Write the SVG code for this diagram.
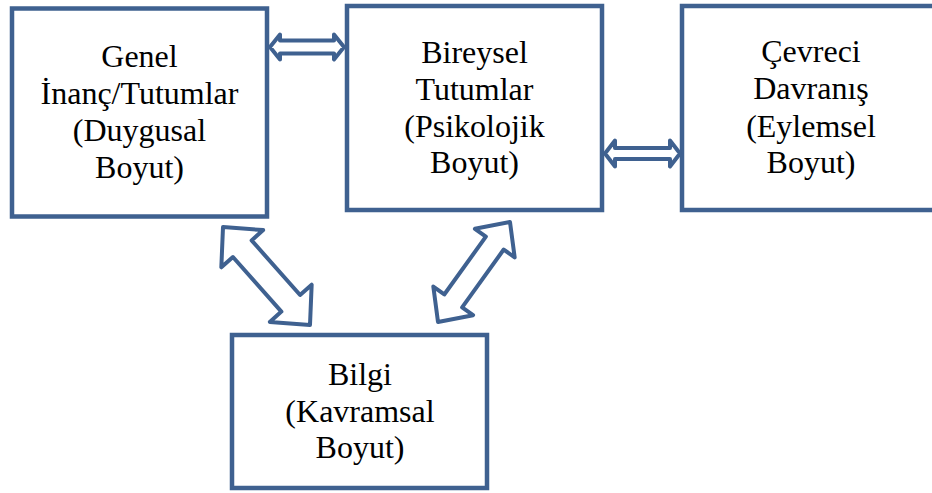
<svg xmlns="http://www.w3.org/2000/svg" width="932" height="493" viewBox="0 0 932 493">
<style>
.box{fill:#fff;stroke:#3F6190;stroke-width:4.5}
.arr{fill:#fff;stroke:#3F6190;stroke-width:4;stroke-linejoin:round}
text{font-family:"Liberation Serif","Times New Roman",serif;font-size:32px;fill:#000;text-anchor:middle}
</style>
<rect width="932" height="493" fill="#fff"/>
<g id="node-genel">
<rect class="box" x="12" y="8.5" width="255" height="208"/>
<text x="139.5" y="67">Genel</text>
<text x="139.5" y="104">İnanç/Tutumlar</text>
<text x="139.5" y="141">(Duygusal</text>
<text x="139.5" y="178">Boyut)</text>
</g>
<g id="node-bireysel">
<rect class="box" x="347" y="6" width="255" height="204"/>
<text x="474.5" y="63">Bireysel</text>
<text x="474.5" y="100">Tutumlar</text>
<text x="474.5" y="137">(Psikolojik</text>
<text x="474.5" y="173">Boyut)</text>
</g>
<g id="node-cevreci">
<rect class="box" x="682" y="6" width="260" height="204"/>
<text x="811" y="62">Çevreci</text>
<text x="811" y="99">Davranış</text>
<text x="811" y="137">(Eylemsel</text>
<text x="811" y="173">Boyut)</text>
</g>
<g id="node-bilgi">
<rect class="box" x="232" y="335" width="255" height="153"/>
<text x="360" y="385">Bilgi</text>
<text x="360" y="422">(Kavramsal</text>
<text x="360" y="458">Boyut)</text>
</g>
<g id="connectors">
<polygon class="arr" transform="translate(307,47)" points="-37,0 -27,-12.5 -27,-6.5 27,-6.5 27,-12.5 37,0 27,12.5 27,6.5 -27,6.5 -27,12.5"/>
<polygon class="arr" transform="translate(642.5,153.5)" points="-37.5,0 -27.5,-13 -27.5,-5.5 27.5,-5.5 27.5,-13 37.5,0 27.5,13 27.5,5.5 -27.5,5.5 -27.5,13"/>
<polygon class="arr" transform="translate(266.5,276) rotate(48.4)" points="-65.5,0 -36.5,-28 -36.5,-12.5 36.5,-12.5 36.5,-28 65.5,0 36.5,28 36.5,12.5 -36.5,12.5 -36.5,28"/>
<polygon class="arr" transform="translate(474,272) rotate(-54.25)" points="-61.6,0 -35.6,-24.5 -35.6,-11 35.6,-11 35.6,-24.5 61.6,0 35.6,24.5 35.6,11 -35.6,11 -35.6,24.5"/>
</g>
</svg>
